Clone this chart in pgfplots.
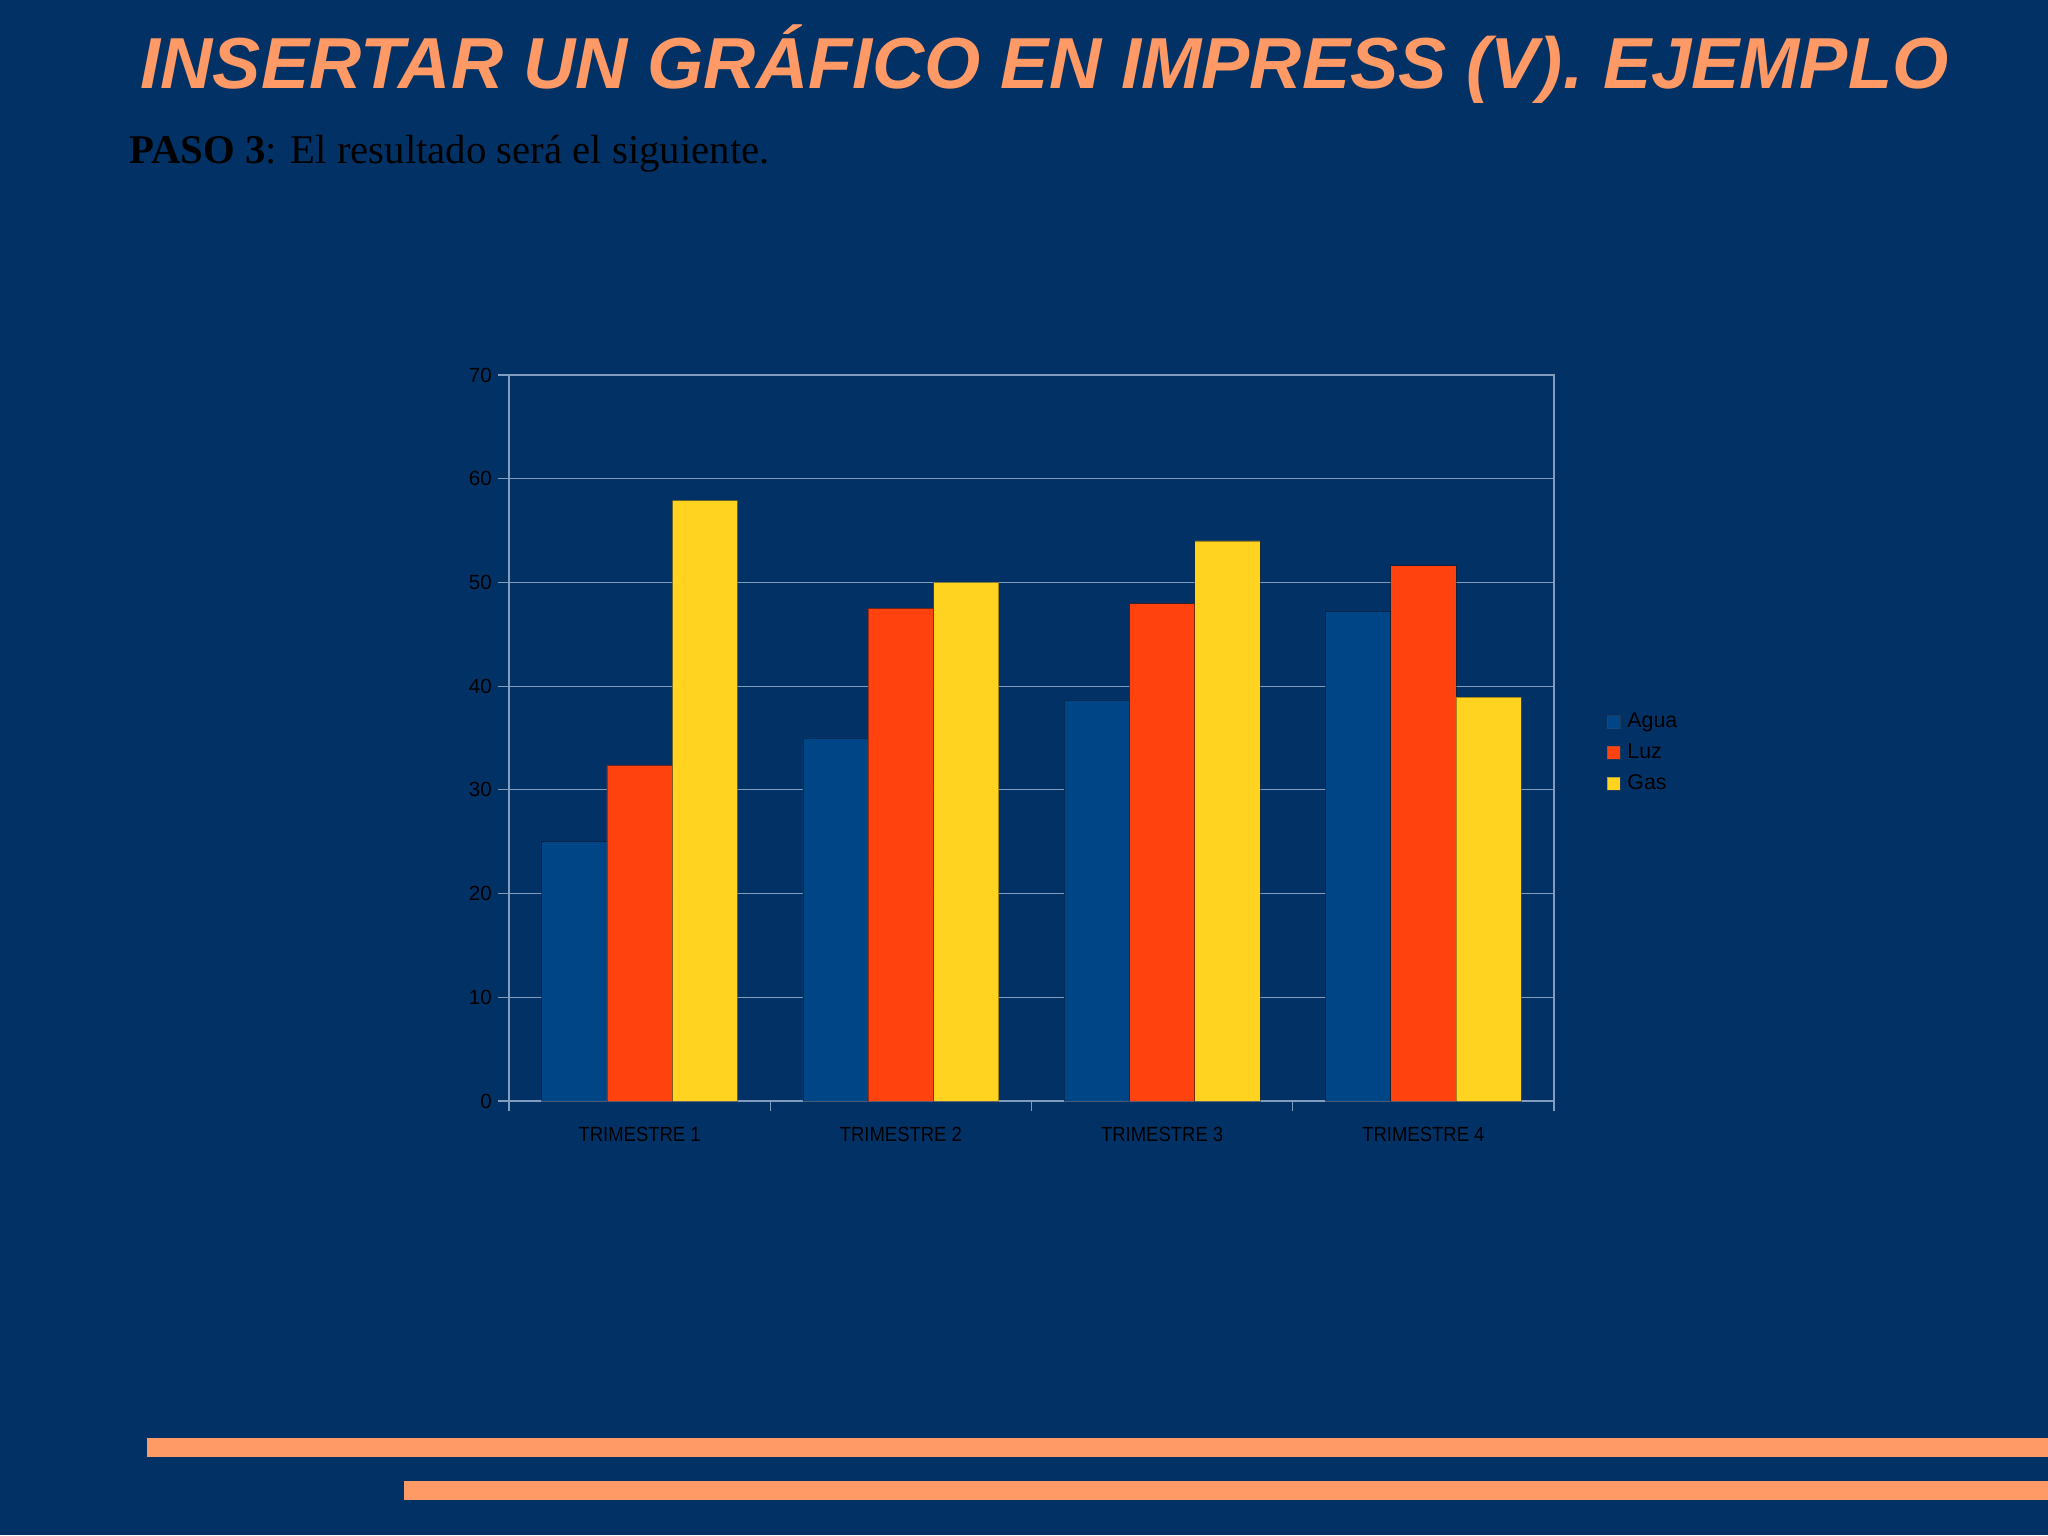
\documentclass[border=0pt]{standalone}
\usepackage{fontspec}
\usepackage{pgfplots}
\pgfplotsset{compat=1.18}
\setmainfont{Liberation Sans}
\newfontfamily\serifface{Liberation Serif}
\newfontfamily\narrowsans[FakeStretch=0.9]{Liberation Sans}

\definecolor{slidebg}{RGB}{2,50,101}
\definecolor{salmon}{RGB}{255,153,102}
\definecolor{agua}{RGB}{0,69,134}
\definecolor{luz}{RGB}{255,66,14}
\definecolor{gas}{RGB}{255,211,32}
\definecolor{gridc}{RGB}{128,156,190}

\begin{document}
\begin{tikzpicture}[x=0.125mm, y=0.125mm]
% slide background (1 unit = 1 px of the 2048x1535 slide)
\fill[slidebg] (0,0) rectangle (2048,1535);
\useasboundingbox (0,0) rectangle (2048,1535);

% title and subtitle
\node[anchor=base west, inner sep=0pt, text=salmon,
      font=\fontsize{25.7}{30}\selectfont\bfseries\itshape]
  at (140,1446) {INSERTAR UN GRÁFICO EN IMPRESS (V). EJEMPLO};
\node[anchor=base west, inner sep=0pt, text=black,
      font=\serifface\fontsize{14.5}{17}\selectfont]
  at (129,1371) {\textbf{PASO 3}: El resultado será el siguiente.};

% decorative bars at the bottom
\fill[salmon] (147,78.3) rectangle (2048,97.3);
\fill[salmon] (403.5,35) rectangle (2048,54.3);

\begin{axis}[
    at={(63.625mm,54.25mm)}, anchor=south west,
    scale only axis,
    width=130.625mm, height=90.75mm,
    xmin=-0.5, xmax=3.5, ymin=0, ymax=70,
    ytick={0,10,...,70},
    xtick={0,1,2,3},
    xticklabels={TRIMESTRE 1,TRIMESTRE 2,TRIMESTRE 3,TRIMESTRE 4},
    minor xtick={-0.5,0.5,1.5,2.5,3.5},
    major x tick style={draw=none},
    xtick pos=bottom, ytick pos=left,
    tick align=outside,
    major tick length=3.9pt, minor tick length=3.6pt,
    tick style={gridc, line width=0.45pt},
    axis line style={gridc, line width=0.45pt},
    ymajorgrids, grid style={gridc, line width=0.45pt},
    /pgf/number format/assume math mode=true,
    ticklabel style={font=\fontsize{7.3}{8}\selectfont, text=black},
    xticklabel style={font=\narrowsans\fontsize{7.3}{8}\selectfont, yshift=-1.8pt},
    yticklabel style={xshift=1.3pt},
    ybar, bar width=0.25,
    legend style={at={(1.05,0.4795)}, anchor=west, draw=none, fill=none,
        font=\fontsize{7.6}{8}\selectfont, text=black,
        row sep=4.4pt, inner sep=0pt,
        nodes={inner sep=0pt, text height=5.2pt, text depth=1.3pt},
        /tikz/every odd column/.append style={column sep=2.4pt}},
    legend cell align=left,
    legend image code/.code={\draw[#1, draw=black!70, line width=0.3pt]
        (0pt,-2.3pt) rectangle (4.6pt,2.3pt);},
]
\addplot[fill=agua, draw=black, draw opacity=0.35, line width=0.3pt, bar shift=-0.25]
  coordinates {(0,25) (1,35) (2,38.65) (3,47.2)};
\addlegendentry{Agua}
\addplot[fill=luz, draw=black, draw opacity=0.35, line width=0.3pt, bar shift=0]
  coordinates {(0,32.35) (1,47.5) (2,47.95) (3,51.6)};
\addlegendentry{Luz}
\addplot[fill=gas, draw=black, draw opacity=0.35, line width=0.3pt, bar shift=0.25]
  coordinates {(0,57.9) (1,50) (2,54) (3,38.95)};
\addlegendentry{Gas}
\end{axis}
\end{tikzpicture}
\end{document}
